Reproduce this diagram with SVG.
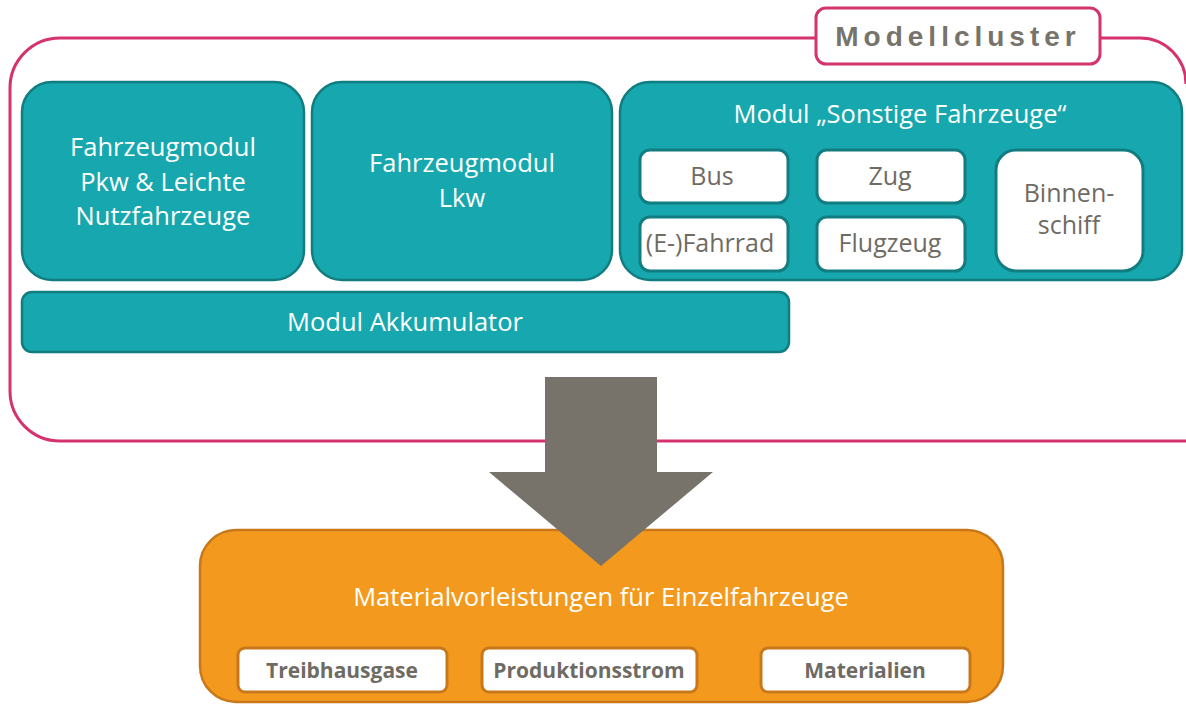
<svg xmlns="http://www.w3.org/2000/svg" width="1186" height="705" viewBox="0 0 1186 705">
<style>
.teal{fill:#16a8ae;stroke:#127d81;stroke-width:2.5}
.wt{fill:#fff;stroke:#127d81;stroke-width:3}
.wo{fill:#fff;stroke:#c8781a;stroke-width:3}
.tw{font-family:"Open Sans","Liberation Sans",Arial,sans-serif;font-size:25.5px;fill:#fff;text-anchor:middle}
.tg{font-family:"Open Sans","Liberation Sans",Arial,sans-serif;font-size:25px;fill:#6f6b63;text-anchor:middle}
.tb{font-family:"Open Sans","Liberation Sans",Arial,sans-serif;font-size:21px;font-weight:bold;fill:#6f6b63;text-anchor:middle}
</style>
<rect width="1186" height="705" fill="#fff"/>
<g id="cluster">
<path d="M816,38 H60 A50,50 0 0 0 10,88 V391 A50,50 0 0 0 60,441 H1186 M1100,38 H1140 A46,46 0 0 1 1186,84" fill="none" stroke="#d4336e" stroke-width="3"/>
<rect x="816" y="8" width="284" height="56" rx="10" fill="#fff" stroke="#d4336e" stroke-width="3"/>
<text x="958" y="46" font-family="Liberation Sans,Arial,sans-serif" font-size="28" font-weight="bold" fill="#77736a" text-anchor="middle" letter-spacing="5">Modellcluster</text>
</g>
<g id="pkw">
<rect class="teal" x="22" y="82" width="282" height="198" rx="30"/>
<text class="tw" x="163" y="156">Fahrzeugmodul</text>
<text class="tw" x="163" y="191">Pkw &amp; Leichte</text>
<text class="tw" x="163" y="225">Nutzfahrzeuge</text>
</g>
<g id="lkw">
<rect class="teal" x="312" y="82" width="300" height="198" rx="30"/>
<text class="tw" x="462" y="172">Fahrzeugmodul</text>
<text class="tw" x="462" y="207">Lkw</text>
</g>
<g id="sonstige">
<rect class="teal" x="620" y="82" width="562" height="198" rx="30"/>
<text class="tw" x="900" y="123">Modul „Sonstige Fahrzeuge“</text>
</g>
<g id="bus"><rect class="wt" x="640" y="150" width="148" height="53" rx="10"/><text class="tg" x="712" y="185">Bus</text></g>
<g id="zug"><rect class="wt" x="817" y="150" width="148" height="53" rx="10"/><text class="tg" x="890" y="185">Zug</text></g>
<g id="fahrrad"><rect class="wt" x="640" y="217" width="148" height="54" rx="10"/><text class="tg" x="710" y="252">(E-)Fahrrad</text></g>
<g id="flugzeug"><rect class="wt" x="817" y="217" width="148" height="54" rx="10"/><text class="tg" x="890" y="252">Flugzeug</text></g>
<g id="binnenschiff"><rect class="wt" x="996" y="150" width="147" height="121" rx="20"/><text class="tg" x="1069" y="202">Binnen-</text><text class="tg" x="1069" y="234">schiff</text></g>
<g id="akku">
<rect class="teal" x="22" y="292" width="767" height="60" rx="10"/>
<text class="tw" x="405" y="331">Modul Akkumulator</text>
</g>
<g id="material">
<rect x="200" y="530" width="803" height="172" rx="36" fill="#f39a1e" stroke="#c8781a" stroke-width="2.5"/>
<text class="tw" x="601" y="606">Materialvorleistungen für Einzelfahrzeuge</text>
</g>
<g id="treib"><rect class="wo" x="238" y="648" width="209" height="44" rx="7"/><text class="tb" x="342" y="678">Treibhausgase</text></g>
<g id="prod"><rect class="wo" x="482" y="648" width="215" height="44" rx="7"/><text class="tb" x="589" y="678">Produktionsstrom</text></g>
<g id="mat"><rect class="wo" x="761" y="648" width="209" height="44" rx="7"/><text class="tb" x="865" y="678">Materialien</text></g>
<g id="connectors">
<polygon points="545,377 657,377 657,472 713,472 601,566 489,472 545,472" fill="#77736a"/>
</g>
</svg>
